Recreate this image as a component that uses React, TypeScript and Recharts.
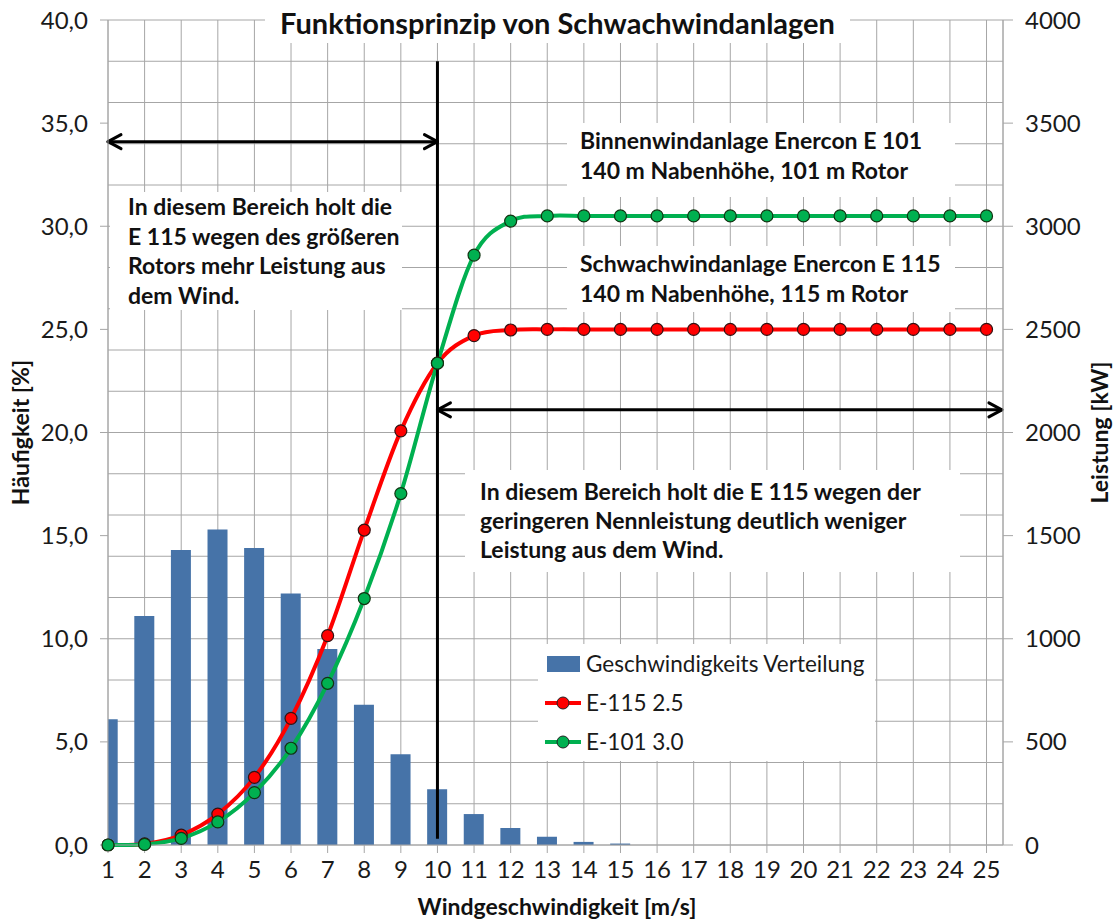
import React from 'react';
import { ComposedChart, Bar, Line, XAxis, YAxis, CartesianGrid, Legend, ReferenceLine, Label } from 'recharts';

const windSpeeds = [1, 2, 3, 4, 5, 6, 7, 8, 9, 10, 11, 12, 13, 14, 15, 16, 17, 18, 19, 20, 21, 22, 23, 24, 25];
const frequencyPct = [6.1, 11.1, 14.3, 15.3, 14.4, 12.2, 9.5, 6.8, 4.4, 2.7, 1.5, 0.82, 0.4, 0.15, 0.07, 0, 0, 0, 0, 0, 0, 0, 0, 0, 0];
const powerE115 = [0, 5, 48, 150, 328, 614, 1015, 1527, 2008, 2336, 2470, 2497, 2500, 2500, 2500, 2500, 2500, 2500, 2500, 2500, 2500, 2500, 2500, 2500, 2500];
const powerE101 = [0, 3, 32, 112, 254, 469, 784, 1195, 1704, 2336, 2860, 3025, 3050, 3050, 3050, 3050, 3050, 3050, 3050, 3050, 3050, 3050, 3050, 3050, 3050];

const seriesNames = ['Geschwindigkeits Verteilung', 'E-115 2.5', 'E-101 3.0'];
const leftTicks = [0, 5, 10, 15, 20, 25, 30, 35, 40];
const rightTicks = [0, 500, 1000, 1500, 2000, 2500, 3000, 3500, 4000];
const gridValues = Array.from({ length: 41 }, (_, i) => i);

const data = windSpeeds.map((speed, i) => ({
  speed,
  freq: frequencyPct[i],
  e115: powerE115[i],
  e101: powerE101[i],
}));

const FONT = 'Lato, "Open Sans", sans-serif';
const GRID = '#a6a6a6';
const TICK = { fill: '#1a1a1a', fontSize: 24, fontFamily: FONT };

// Excel-like smoothing (Catmull-Rom as cubic bezier)
const excelSmooth: any = (context: any) => {
  let pts: [number, number][] = [];
  return {
    areaStart() {},
    areaEnd() {},
    lineStart() {
      pts = [];
    },
    point(x: number, y: number) {
      pts.push([+x, +y]);
    },
    lineEnd() {
      const n = pts.length;
      if (!n) return;
      context.moveTo(pts[0][0], pts[0][1]);
      for (let i = 0; i < n - 1; i++) {
        const p0 = pts[Math.max(i - 1, 0)];
        const p1 = pts[i];
        const p2 = pts[i + 1];
        const p3 = pts[Math.min(i + 2, n - 1)];
        context.bezierCurveTo(
          p1[0] + (p2[0] - p0[0]) / 6,
          p1[1] + (p2[1] - p0[1]) / 6,
          p2[0] - (p3[0] - p1[0]) / 6,
          p2[1] - (p3[1] - p1[1]) / 6,
          p2[0],
          p2[1],
        );
      }
    },
  };
};

const DoubleArrow = (props: any) => {
  const { x1, y1, x2, y2 } = props;
  const h = 13;
  const w = 7;
  return (
    <g stroke="#000" strokeWidth={3} fill="none" strokeLinecap="round" strokeLinejoin="round">
      <line x1={x1} y1={y1} x2={x2} y2={y2} />
      <polyline points={`${x1 + h},${y1 - w} ${x1},${y1} ${x1 + h},${y1 + w}`} />
      <polyline points={`${x2 - h},${y2 - w} ${x2},${y2} ${x2 - h},${y2 + w}`} />
    </g>
  );
};

const LegendContent = ({ payload }: any) => {
  const items = [...(payload || [])].sort((a: any, b: any) => seriesNames.indexOf(a.value) - seriesNames.indexOf(b.value));
  return (
    <div style={{ background: '#fff', fontFamily: FONT, fontSize: 22.5, color: '#1a1a1a', padding: '0 6px' }}>
      {items.map((e: any) => (
        <div key={e.value} style={{ display: 'flex', alignItems: 'center', height: 39 }}>
          <svg width={38} height={20} style={{ marginRight: 4 }}>
            {e.type === 'rect' ? (
              <rect x={3} y={2} width={33} height={16} fill={e.color} />
            ) : (
              <g>
                <line x1={1} y1={10} x2={37} y2={10} stroke={e.color} strokeWidth={4} />
                <circle cx={19} cy={10} r={6} fill={e.color} stroke="#222" strokeWidth={1} />
              </g>
            )}
          </svg>
          <span>{e.value}</span>
        </div>
      ))}
    </div>
  );
};

const boxStyle = (left: number, top: number, width: number, height: number, extra: React.CSSProperties = {}): React.CSSProperties => ({
  position: 'absolute',
  left,
  top,
  width,
  height,
  background: '#fff',
  fontFamily: FONT,
  fontWeight: 700,
  fontSize: 23,
  color: '#111',
  boxSizing: 'border-box',
  whiteSpace: 'nowrap',
  ...extra,
});

const axisTitle = (cx: number, label: string) => (p: any) => {
  const cy = p.viewBox.y + p.viewBox.height / 2;
  return (
    <text x={cx} y={cy} transform={`rotate(-90 ${cx} ${cy})`} textAnchor="middle" dominantBaseline="central" fontFamily={FONT} fontWeight={700} fontSize={23} fill="#111">
      {label}
    </text>
  );
};

export default function App() {
  return (
    <div style={{ position: 'absolute', left: 0, top: 0, width: 1114, height: 922, background: '#fff' }}>
      <ComposedChart width={1114} height={922} data={data} margin={{ top: 20, right: 0, bottom: 0, left: 0 }}>
        <CartesianGrid yAxisId="left" stroke={GRID} strokeWidth={1} horizontalValues={gridValues} />
        <XAxis
          dataKey="speed"
          type="number"
          domain={[1, 25.45]}
          ticks={windSpeeds}
          interval={0}
          allowDataOverflow
          height={77}
          stroke={GRID}
          tickSize={8}
          tickMargin={8}
          tick={TICK}
        >
          <Label
            content={(p: any) => (
              <text x={557} y={p.viewBox.y + p.viewBox.height - 7} textAnchor="middle" fontFamily={FONT} fontWeight={700} fontSize={23} fill="#111">
                Windgeschwindigkeit [m/s]
              </text>
            )}
          />
        </XAxis>
        <YAxis
          yAxisId="left"
          domain={[0, 40]}
          ticks={leftTicks}
          width={108}
          stroke={GRID}
          tickSize={8}
          tickMargin={12}
          tickFormatter={(v: number) => v.toFixed(1).replace('.', ',')}
          tick={TICK}
        >
          <Label content={axisTitle(20, 'Häufigkeit [%]')} />
        </YAxis>
        <YAxis
          yAxisId="right"
          orientation="right"
          domain={[0, 4000]}
          ticks={rightTicks}
          width={111}
          stroke={GRID}
          tickSize={10}
          tickMargin={12}
          tick={TICK}
        >
          <Label content={axisTitle(1099, 'Leistung [kW]')} />
        </YAxis>
        <Bar yAxisId="left" dataKey="freq" name={seriesNames[0]} fill="#4673a8" barSize={20} legendType="rect" isAnimationActive={false} />
        <Line
          yAxisId="right"
          type={excelSmooth}
          dataKey="e115"
          name={seriesNames[1]}
          stroke="#ff0000"
          strokeWidth={4}
          dot={{ r: 6, fill: '#ff0000', stroke: '#331111', strokeWidth: 1.2, clipDot: false } as any}
          legendType="line"
          isAnimationActive={false}
        />
        <Line
          yAxisId="right"
          type={excelSmooth}
          dataKey="e101"
          name={seriesNames[2]}
          stroke="#00b050"
          strokeWidth={4}
          dot={{ r: 6, fill: '#00b050', stroke: '#113311', strokeWidth: 1.2, clipDot: false } as any}
          legendType="line"
          isAnimationActive={false}
        />
        <ReferenceLine yAxisId="left" segment={[{ x: 10, y: 0.3 }, { x: 10, y: 38 }]} stroke="#000" strokeWidth={3} />
        <ReferenceLine yAxisId="left" segment={[{ x: 1, y: 34.1 }, { x: 10, y: 34.1 }]} shape={DoubleArrow} />
        <ReferenceLine yAxisId="left" segment={[{ x: 10, y: 21.1 }, { x: 25.42, y: 21.1 }]} shape={DoubleArrow} />
        <Legend
          layout="vertical"
          align="center"
          verticalAlign="middle"
          content={LegendContent}
          wrapperStyle={{ left: 538, top: 644, width: 337 }}
        />
      </ComposedChart>

      <div style={boxStyle(265, 2, 585, 41, { fontSize: 29, textAlign: 'center', lineHeight: '41px' })}>
        Funktionsprinzip von Schwachwindanlagen
      </div>
      <div style={boxStyle(110, 192, 292, 118, { paddingLeft: 18, lineHeight: '29.5px' })}>
        In diesem Bereich holt die
        <br />E 115 wegen des größeren
        <br />Rotors mehr Leistung aus
        <br />dem Wind.
      </div>
      <div style={boxStyle(567, 123, 388, 74, { paddingLeft: 13, paddingTop: 2, lineHeight: '30px' })}>
        Binnenwindanlage Enercon E 101
        <br />140 m Nabenhöhe, 101 m Rotor
      </div>
      <div style={boxStyle(567, 246, 388, 66, { paddingLeft: 13, paddingTop: 2, lineHeight: '30px' })}>
        Schwachwindanlage Enercon E 115
        <br />140 m Nabenhöhe, 115 m Rotor
      </div>
      <div style={boxStyle(465, 470, 495, 102, { paddingLeft: 15, paddingTop: 7, lineHeight: '29px' })}>
        In diesem Bereich holt die E 115 wegen der
        <br />geringeren Nennleistung deutlich weniger
        <br />Leistung aus dem Wind.
      </div>
    </div>
  );
}
